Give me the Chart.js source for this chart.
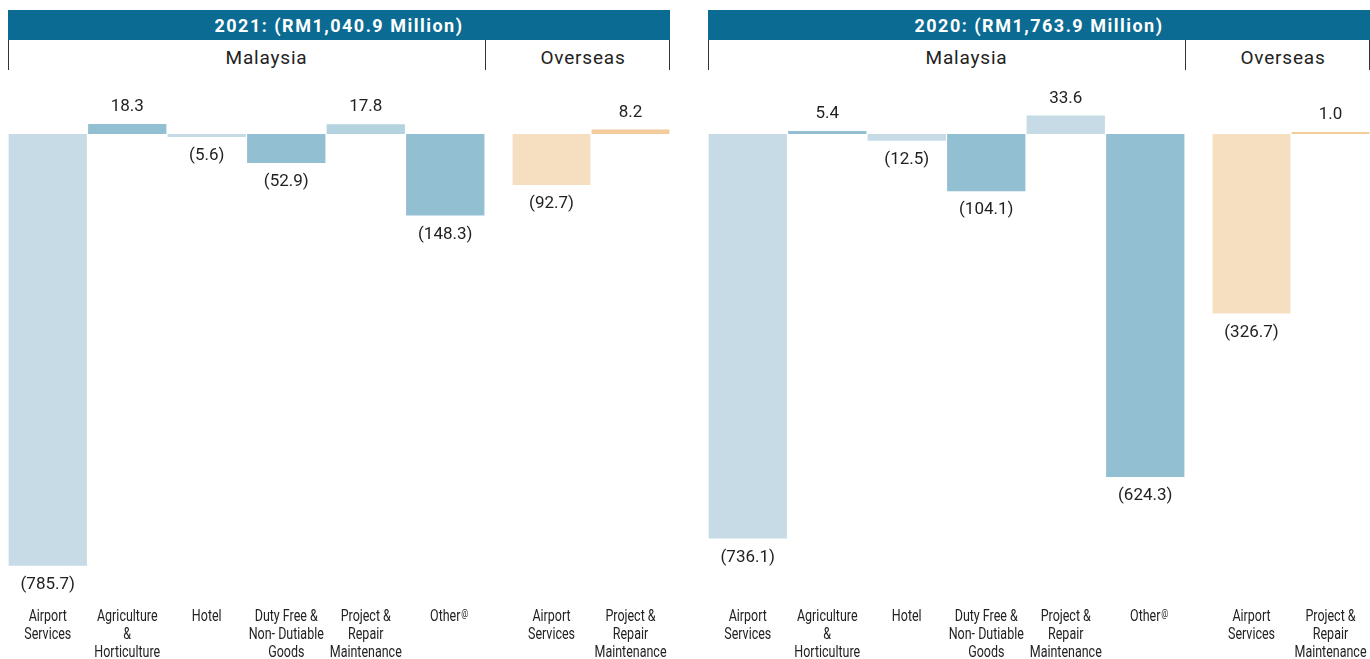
<!DOCTYPE html>
<html>
<head>
<meta charset="utf-8">
<script src="https://cdn.jsdelivr.net/npm/chart.js@4.4.1/dist/chart.umd.min.js"></script>
<style>
html, body { margin: 0; padding: 0; background: #fff; }
body { width: 1370px; height: 659px; position: relative; overflow: hidden; font-family: Roboto, sans-serif; }
.panel { position: absolute; top: 10px; width: 662px; height: 649px; }
.title { height: 30px; line-height: 31px; background: #0b6b93; color: #fff; font-weight: 700; font-size: 18px; letter-spacing: 1.5px; text-align: center; }
.grp { position: absolute; top: 30px; height: 30px; line-height: 35px; font-size: 19px; letter-spacing: 0.8px; color: #222; text-align: center; border-left: 1px solid #333; box-sizing: border-box; }
.grp.my { left: 0; width: 477px; padding-left: 39px; }
.grp.os { left: 477px; width: 185px; padding-left: 11px; border-right: 1px solid #333; }
canvas { position: absolute; top: 60px; }
</style>
</head>
<body>
<div class="panel" id="p2021" style="left:8px">
  <div class="title"></div>
  <div class="grp my"></div>
  <div class="grp os"></div>
  <canvas class="cmy" width="477" height="589" style="left:0"></canvas>
  <canvas class="cos" width="185" height="589" style="left:477px"></canvas>
</div>
<div class="panel" id="p2020" style="left:708px">
  <div class="title"></div>
  <div class="grp my"></div>
  <div class="grp os"></div>
  <canvas class="cmy" width="477" height="589" style="left:0"></canvas>
  <canvas class="cos" width="185" height="589" style="left:477px"></canvas>
</div>
<script>
// =========================
// DATA
// =========================
const title2021 = "2021: (RM1,040.9 Million)";
const title2020 = "2020: (RM1,763.9 Million)";
const groupNames = ["Malaysia", "Overseas"];

const malaysiaCategories = [
    ["Airport", "Services"],
    ["Agriculture", "&", "Horticulture"],
    ["Hotel"],
    ["Duty Free &", "Non- Dutiable", "Goods"],
    ["Project &", "Repair", "Maintenance"],
    ["Other"]
];
const malaysiaMarks = ["", "", "", "", "", "@"];
const overseasCategories = [
    ["Airport", "Services"],
    ["Project &", "Repair", "Maintenance"]
];

const malaysia2021 = [-785.7, 18.3, -5.6, -52.9, 17.8, -148.3];
const overseas2021 = [-92.7, 8.2];
const malaysia2020 = [-736.1, 5.4, -12.5, -104.1, 33.6, -624.3];
const overseas2020 = [-326.7, 1.0];

// =========================
// STYLE
// =========================
const light = "#c6dbe6";
const mid = "#93bfd3";
const colors2021My = [light, mid, light, mid, "#b4d3df", mid];
const colors2020My = [light, mid, light, mid, light, mid];
const colorsOs = ["#f6dfc1", "#f3cc9c"];
const textColor = "#222";
const tickSize = 16;
const tickSquash = 0.78;   // condensed look for category labels

// value labels, category labels (condensed) and the small superscript marks
const valueLabels = {
    id: "valueLabels",
    afterDatasetsDraw(chart, args, opts) {
        const ctx = chart.ctx;
        const meta = chart.getDatasetMeta(0);
        const values = chart.data.datasets[0].data;
        ctx.save();
        ctx.font = "17px Roboto";
        ctx.fillStyle = textColor;
        ctx.textAlign = "center";
        ctx.textBaseline = "middle";
        meta.data.forEach((bar, i) => {
            const v = values[i];
            const txt = v < 0 ? "(" + Math.abs(v).toFixed(1) + ")" : v.toFixed(1);
            const y = v < 0 ? bar.y + 19 : bar.y - 17;
            ctx.fillText(txt, bar.x, y);
        });

        const xs = chart.scales.x;
        const marks = opts.marks || [];
        chart.data.labels.forEach((lbl, i) => {
            const lines = Array.isArray(lbl) ? lbl : [lbl];
            const cx = xs.getPixelForTick(i);
            lines.forEach((line, j) => {
                const cy = xs.top + 16 + j * 18;
                ctx.save();
                ctx.translate(cx, cy);
                ctx.scale(tickSquash, 1);
                ctx.font = tickSize + "px Roboto";
                ctx.textAlign = "center";
                ctx.textBaseline = "middle";
                ctx.fillText(line, 0, 0);
                if (j === 0 && marks[i]) {
                    const w = ctx.measureText(line).width;
                    ctx.font = "10px Roboto";
                    ctx.textAlign = "left";
                    ctx.textBaseline = "top";
                    ctx.fillText(marks[i], w / 2 + 1, -8);
                }
                ctx.restore();
            });
        });
        ctx.restore();
    }
};

function makeChart(canvas, labels, values, colors, padLeft, marks) {
    return new Chart(canvas, {
        type: "bar",
        data: {
            labels: labels,
            datasets: [{
                data: values,
                backgroundColor: colors,
                barPercentage: 0.985,
                categoryPercentage: 1,
                minBarLength: 2
            }]
        },
        options: {
            responsive: false,
            animation: false,
            layout: { padding: { left: padLeft, right: 0, top: 9, bottom: 0 } },
            plugins: {
                legend: { display: false },
                tooltip: { enabled: false },
                valueLabels: { marks: marks }
            },
            scales: {
                x: {
                    grid: { display: false, drawTicks: false, tickLength: 0 },
                    border: { display: false },
                    ticks: { display: false },
                    afterFit: (axis) => { axis.height = 58; }
                },
                y: { display: false, min: -850, max: 100 }
            }
        },
        plugins: [valueLabels]
    });
}

function buildPanel(id, title, myValues, osValues, myColors) {
    const panel = document.getElementById(id);
    panel.querySelector(".title").textContent = title;
    panel.querySelector(".grp.my").textContent = groupNames[0];
    panel.querySelector(".grp.os").textContent = groupNames[1];
    makeChart(panel.querySelector(".cmy"), malaysiaCategories, myValues, myColors, 0, malaysiaMarks);
    makeChart(panel.querySelector(".cos"), overseasCategories, osValues, colorsOs, 27, []);
}

buildPanel("p2021", title2021, malaysia2021, overseas2021, colors2021My);
buildPanel("p2020", title2020, malaysia2020, overseas2020, colors2020My);
</script>
</body>
</html>
